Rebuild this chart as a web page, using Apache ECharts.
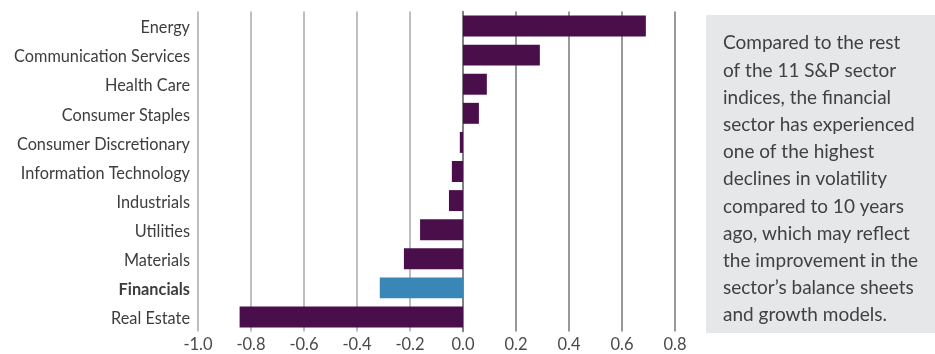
<!DOCTYPE html>
<html>
<head>
<meta charset="utf-8">
<script src="https://cdn.jsdelivr.net/npm/echarts@6/dist/echarts.min.js"></script>
<style>
html,body{margin:0;padding:0;background:#fff;}
#chart{width:935px;height:354px;}
</style>
</head>
<body>
<div id="chart"></div>
<script>
const categories = ['Energy','Communication Services','Health Care','Consumer Staples','Consumer Discretionary','Information Technology','Industrials','Utilities','Materials','Financials','Real Estate'];
const values = [0.69, 0.29, 0.09, 0.06, -0.012, -0.042, -0.053, -0.162, -0.223, -0.314, -0.843];
const highlight = 'Financials';
const noteLines = [
  'Compared to the rest',
  'of the 11 S&P sector',
  'indices, the financial',
  'sector has experienced',
  'one of the highest',
  'declines in volatility',
  'compared to 10 years',
  'ago, which may reflect',
  'the improvement in the',
  'sector\u2019s balance sheets',
  'and growth models.'
];

const FONT = 'Lato';
const chart = echarts.init(document.getElementById('chart'), null, {renderer:'canvas'});
const gridColors = ['#a7a9ac','#a7a9ac','#a7a9ac','#a7a9ac','#a7a9ac','#a7a9ac','#76777a','#76777a','#76777a','#76777a'];

chart.setOption({
  animation:false,
  grid:{left:198, right:260, top:11.5, bottom:22.5, containLabel:false},
  xAxis:{
    type:'value', min:-1, max:0.8, interval:0.2,
    axisLine:{show:false}, axisTick:{show:false},
    splitLine:{show:true, lineStyle:{color:gridColors, width:1.5}},
    axisLabel:{
      margin:5, color:'#4a4a4a', fontFamily:FONT, fontSize:16.5,
      formatter:v=>(Math.abs(v)<1e-9?0:v).toFixed(1)
    }
  },
  yAxis:{
    type:'category', data:categories, inverse:true,
    axisLine:{show:true, lineStyle:{color:'#6d6e71', width:1.5}},
    axisTick:{show:false},
    axisLabel:{
      margin:8, color:'#3d3d3d', fontFamily:FONT, fontSize:16.3,
      padding:[4,0,0,0],
      formatter:v=> v===highlight ? '{b|'+v+'}' : v,
      rich:{b:{fontWeight:'bold', color:'#3d3d3d', fontFamily:FONT, fontSize:16.3}}
    }
  },
  series:[{
    type:'bar',
    data:values.map((v,i)=>({value:v, itemStyle:{color: categories[i]===highlight ? '#3a86b7' : '#4a0f4a'}})),
    barCategoryGap:'28%'
  }],
  graphic:[
    {type:'rect', left:706, top:15, shape:{width:229, height:318}, style:{fill:'#e6e7e8'}, z:0},
    {type:'text', left:723, top:29.7, z:1,
     style:{text:noteLines.join('\n'), fontFamily:FONT, fontSize:19, lineHeight:27.2, fill:'#414042'}}
  ]
});
</script>
</body>
</html>
